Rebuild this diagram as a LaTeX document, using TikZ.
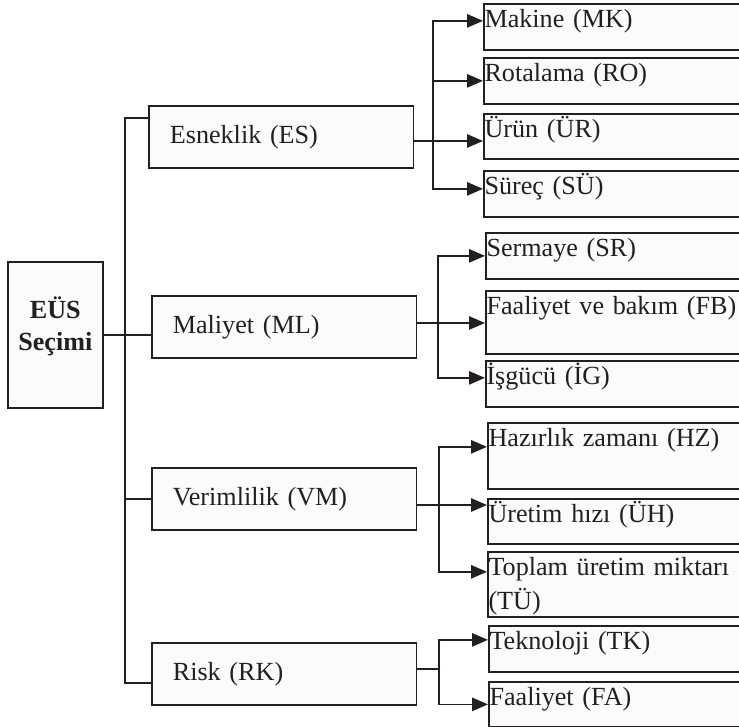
\documentclass[tikz,border=0pt]{standalone}
\usepackage{fontspec}
\setmainfont{Liberation Serif}
\usetikzlibrary{arrows.meta}
\definecolor{cizgi}{HTML}{231F20}
\definecolor{dolgu}{HTML}{FBFBFB}
\tikzset{
  kutu/.style={draw=cizgi, fill=dolgu, line width=1.3pt, text=cizgi,
    font=\fontsize{19.6}{25}\selectfont},
  kok/.style={kutu, anchor=north west, minimum width=71.25pt,
    minimum height=109.5pt, inner sep=0pt, align=center,
    font=\fontsize{19.6}{24}\selectfont\bfseries},
  ana/.style={kutu, anchor=north west, minimum height=46.5pt, text width=167pt,
    inner xsep=15.75pt, inner ysep=0pt, align=left},
  alt/.style={kutu, anchor=north west, text width=194pt, inner xsep=0.5pt,
    inner ysep=0pt, align=left, text height=18pt, text depth=#1},
  hat/.style={draw=cizgi, line width=1.3pt},
  ok/.style={hat, -{Triangle[length=12pt,width=10pt]}}
}
\begin{document}
\begin{tikzpicture}[x=0.75pt, y=-0.75pt]
    \useasboundingbox (0,0) rectangle (739,727);
    % Kök
    \node[kok] (eus) at (7,261) {EÜS\\Seçimi\\[-7.5pt]};
    % Ana kriterler
    \node[ana] (es) at (148,105) {Esneklik (ES)};
    \node[ana] (ml) at (151,295) {Maliyet (ML)};
    \node[ana] (vm) at (151,467) {Verimlilik (VM)};
    \node[ana] (rk) at (151,642) {Risk (RK)};
    % Alt kriterler
    \node[alt=16.5pt] (mk) at (483,3) {Makine (MK)};
    \node[alt=16.5pt] (ro) at (483,57) {Rotalama (RO)};
    \node[alt=15.75pt] (ur) at (483,113) {Ürün (ÜR)};
    \node[alt=16.5pt] (su) at (483,170) {Süreç (SÜ)};
    \node[alt=16.5pt] (sr) at (485,232) {Sermaye (SR)};
    \node[alt=29.25pt] (fb) at (485,290) {Faaliyet ve bakım (FB)};
    \node[alt=16.5pt] (ig) at (485,360) {İşgücü (İG)};
    \node[alt=31.5pt] (hz) at (487,422) {Hazırlık zamanı (HZ)};
    \node[alt=15.75pt] (uh) at (487,498) {Üretim hızı (ÜH)};
    \node[alt=30.75pt] (tu) at (487,551) {Toplam üretim miktarı\\(TÜ)};
    \node[alt=16.5pt] (tk) at (488,625) {Teknoloji (TK)};
    \node[alt=15.75pt] (fa) at (488,681) {Faaliyet (FA)};
    % Gövde
    \coordinate (g1) at (125,118);
    \coordinate (g2) at (125,683);
    \draw[hat] (es.west |- g1) -- (g1) -- (g2) -- (rk.west |- g2);
    \draw[hat] (eus.east) -- (eus.east -| ml.west);
    \draw[hat] (vm.west) -- (vm.west -| g1);
    % Esneklik dalı
    \coordinate (d1) at (433,141);
    \draw[hat] (es.east |- d1) -- (d1);
    \draw[ok] (d1) -- (d1 -| ur.west);
    \draw[ok] (d1) |- ([yshift=4.5pt]mk.west);
    \draw[ok] (d1) |- (ro.west);
    \draw[ok] (d1) |- ([yshift=3.75pt]su.west);
    % Maliyet dalı
    \coordinate (d2) at (438,323);
    \draw[hat] (ml.east |- d2) -- (d2);
    \draw[ok] (d2) -- (d2 -| fb.west);
    \draw[ok] (d2) |- (sr.west);
    \draw[ok] (d2) |- ([yshift=4.5pt]ig.west);
    % Verimlilik dalı
    \coordinate (d3) at (439,505);
    \draw[hat] (vm.east |- d3) -- (d3);
    \draw[ok] (d3) -- (d3 -| uh.west);
    \draw[ok] (d3) |- ([yshift=6.75pt]hz.west);
    \draw[ok] (d3) |- ([yshift=9.4pt]tu.west);
    % Risk dalı
    \coordinate (d4) at (439,669);
    \draw[hat] (rk.east |- d4) -- (d4);
    \draw[ok] (d4) |- ([yshift=6.75pt]tk.west);
    \draw[ok] (d4) |- (fa.west);
\end{tikzpicture}
\end{document}
